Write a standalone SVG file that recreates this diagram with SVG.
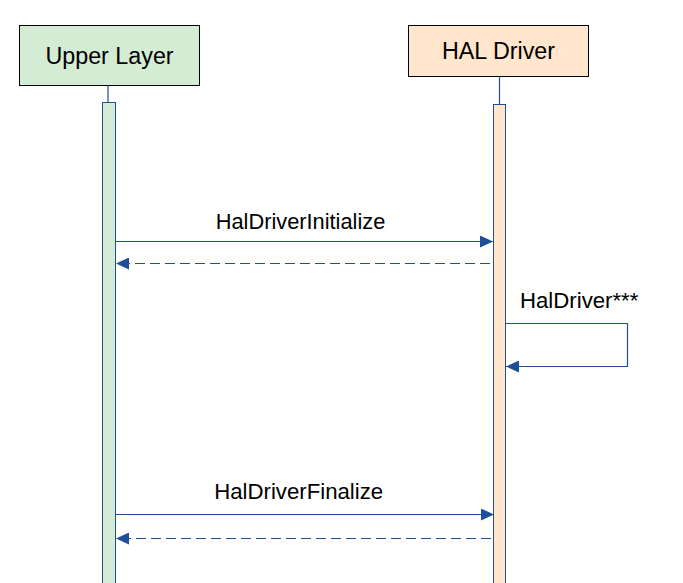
<svg xmlns="http://www.w3.org/2000/svg" width="683" height="583" viewBox="0 0 683 583">
<style>
.box{stroke:#000;stroke-width:1}
.t{font-family:"Liberation Sans",Arial,sans-serif;fill:#000}
.ln{stroke:#1f4e9a;stroke-width:1.2;fill:none}
.dash{stroke-dasharray:10 5}
</style>
<defs>
<marker id="ah" viewBox="0 0 13 12" refX="13" refY="6" markerWidth="13" markerHeight="12" markerUnits="userSpaceOnUse" orient="auto">
<path d="M0,0 L13,6 L0,12 z" fill="#1f4e9a"/>
</marker>
</defs>
<rect width="683" height="583" fill="#fff"/>
<g id="upper">
<rect class="box" x="19.5" y="25.5" width="180" height="60" fill="#d5ecd4"/>
<text class="t" x="109.5" y="64" font-size="23.3" text-anchor="middle">Upper Layer</text>
<line class="ln" x1="108" y1="85.5" x2="108" y2="102.5"/>
<rect x="102.5" y="102.5" width="13" height="490" fill="#d5ecd4" stroke="#1f4e9a" stroke-width="1"/>
</g>
<g id="hal">
<rect class="box" x="408.5" y="25.5" width="180" height="51" fill="#ffe6cc"/>
<text class="t" x="498.5" y="59" font-size="23.3" text-anchor="middle">HAL Driver</text>
<line class="ln" x1="499.5" y1="76.5" x2="499.5" y2="104.5"/>
<rect x="493.5" y="104.5" width="12" height="490" fill="#ffe6cc" stroke="#1f4e9a" stroke-width="1"/>
</g>
<g id="connectors">
<line class="ln" x1="116" y1="241.5" x2="493" y2="241.5" marker-end="url(#ah)"/>
<text class="t" x="300.5" y="229" font-size="21.8" text-anchor="middle">HalDriverInitialize</text>
<line class="ln dash" x1="490" y1="263.5" x2="116" y2="263.5" marker-end="url(#ah)"/>
<polyline class="ln" points="505,323.5 627.5,323.5 627.5,366.5 506,366.5" marker-end="url(#ah)"/>
<text class="t" x="520" y="308.3" font-size="22.2">HalDriver***</text>
<line class="ln" x1="116" y1="514.5" x2="494" y2="514.5" marker-end="url(#ah)"/>
<text class="t" x="298.7" y="498.5" font-size="22.2" text-anchor="middle">HalDriverFinalize</text>
<line class="ln dash" x1="491" y1="538.5" x2="116" y2="538.5" marker-end="url(#ah)"/>
</g>
</svg>
